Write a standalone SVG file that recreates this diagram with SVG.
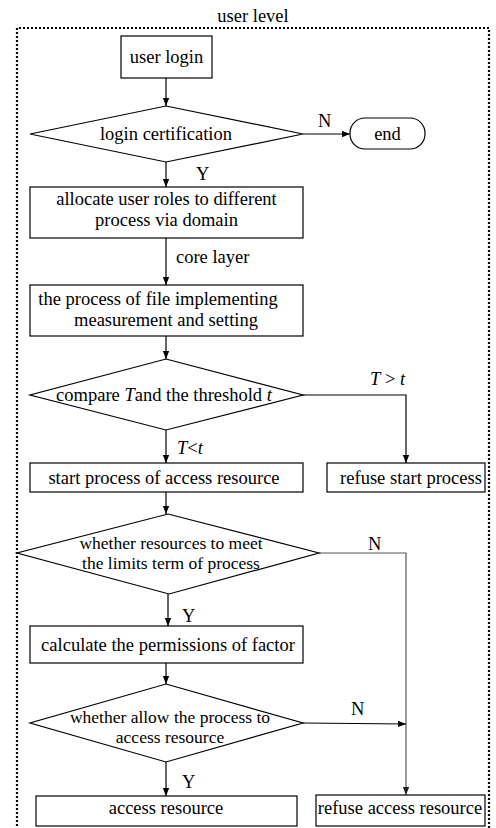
<svg xmlns="http://www.w3.org/2000/svg" width="496" height="828" viewBox="0 0 496 828">
<defs>
<marker id="ah" markerWidth="8" markerHeight="8" refX="8" refY="4" orient="auto" markerUnits="userSpaceOnUse">
<path d="M0,0.8 L8,4 L0,7.2 Z" fill="#000"/>
</marker>
<marker id="ahg" markerWidth="8" markerHeight="8" refX="8" refY="4" orient="auto" markerUnits="userSpaceOnUse">
<path d="M0,0.8 L8,4 L0,7.2 Z" fill="#222"/>
</marker>
<style>
text{font-family:"Liberation Serif","Times New Roman",serif;font-size:18.5px;fill:#000}
.c{text-anchor:middle}
.i{font-style:italic}
.t2{font-size:17.5px}
.n rect,.n polygon{fill:#fff;stroke:#000;stroke-width:1.2}
.e line,.e polyline{fill:none;stroke:#000;stroke-width:1.2;marker-end:url(#ah)}
.e .g{stroke:#555;marker-end:url(#ahg)}
.border{fill:none;stroke:#000;stroke-width:2.2;stroke-dasharray:2 2}
</style>
</defs>
<rect width="496" height="828" fill="#fff"/>
<g id="userlevel">
<path class="border" d="M17,830 L17,28 L489,28 L489,830"/>
<text class="c" x="253" y="22">user level</text>
</g>
<g class="e" id="connectors">
<line x1="166" y1="78" x2="166" y2="106"/>
<line x1="303" y1="134" x2="350" y2="134"/>
<line x1="166" y1="162" x2="166" y2="187"/>
<line x1="166" y1="238" x2="166" y2="285"/>
<line x1="166" y1="336" x2="166" y2="359"/>
<polyline points="303,395 406,395 406,463"/>
<line x1="166" y1="430" x2="166" y2="463"/>
<line x1="166" y1="492" x2="166" y2="514"/>
<polyline class="g" points="319,553 406,553 406,795"/>
<line x1="168" y1="594" x2="168" y2="626"/>
<line x1="166" y1="663" x2="166" y2="684"/>
<line x1="303" y1="723" x2="406" y2="724"/>
<line x1="166" y1="762" x2="166" y2="796"/>
</g>
<g id="labels">
<text x="318" y="127">N</text>
<text x="196" y="180">Y</text>
<text x="176" y="263">core layer</text>
<text x="370" y="385"><tspan class="i">T</tspan> &gt; <tspan class="i">t</tspan></text>
<text x="177" y="454"><tspan class="i">T</tspan>&lt;<tspan class="i">t</tspan></text>
<text x="368" y="550">N</text>
<text x="182" y="622">Y</text>
<text x="351" y="715">N</text>
<text x="182" y="788">Y</text>
</g>
<g class="n" id="user_login">
<rect x="121" y="36" width="91" height="42"/>
<text class="c" x="166.5" y="63">user login</text>
</g>
<g class="n" id="login_certification">
<polygon points="166,106 303,134 166,162 30,134"/>
<text class="c" x="166" y="140">login certification</text>
</g>
<g class="n" id="end">
<rect x="350" y="118" width="75" height="31" rx="15" ry="15"/>
<text class="c" x="387.5" y="140">end</text>
</g>
<g class="n" id="allocate">
<rect x="30" y="187" width="273" height="51"/>
<text class="c" x="166.5" y="205">allocate user roles to different</text>
<text class="c" x="166.5" y="226">process via domain</text>
</g>
<g class="n" id="measurement">
<rect x="30" y="285" width="273" height="51"/>
<text class="c" x="158" y="305">the process of file implementing</text>
<text class="c" x="166" y="326">measurement and setting</text>
</g>
<g class="n" id="compare">
<polygon points="166,359 303,395 166,430 30,395"/>
<text class="c" x="164" y="401">compare <tspan class="i">T</tspan>and the threshold <tspan class="i">t</tspan></text>
</g>
<g class="n" id="start_process">
<rect x="30" y="463" width="273" height="29"/>
<text class="c" x="164" y="484">start process of access resource</text>
</g>
<g class="n" id="refuse_start">
<rect x="327" y="463" width="158" height="29"/>
<text class="c" x="411" y="484">refuse start process</text>
</g>
<g class="n" id="whether_resources">
<polygon points="168,514 319,553 169,594 17,553"/>
<text class="c t2" x="171" y="549">whether resources to meet</text>
<text class="c t2" x="171" y="569">the limits term of process</text>
</g>
<g class="n" id="calculate">
<rect x="30" y="626" width="273" height="37"/>
<text class="c" x="168" y="651">calculate the permissions of factor</text>
</g>
<g class="n" id="whether_allow">
<polygon points="166,684 303,723 166,762 30,723"/>
<text class="c t2" x="170" y="723">whether allow the process to</text>
<text class="c t2" x="170" y="743">access resource</text>
</g>
<g class="n" id="access_resource">
<rect x="36" y="796" width="261" height="30"/>
<text class="c" x="166" y="814">access resource</text>
</g>
<g class="n" id="refuse_access">
<rect x="316" y="795" width="169" height="31"/>
<text class="c" x="400" y="814">refuse access resource</text>
</g>
</svg>
